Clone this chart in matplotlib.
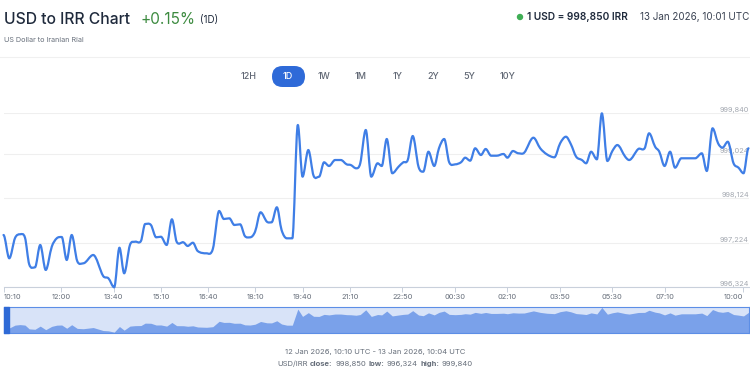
import matplotlib
matplotlib.use("Agg")
import matplotlib.pyplot as plt
from matplotlib.patches import FancyBboxPatch, Rectangle, Circle, PathPatch
from matplotlib.path import Path
from matplotlib.transforms import blended_transform_factory

plt.rcParams['font.family'] = ['Inter', 'DejaVu Sans']

# position of each reading along the time axis (10-minute slots from 12 Jan 10:10)
slot = [0, 1.1, 2.2, 3.15, 4.1, 4.9, 6.0, 7.0, 8.05, 9.2, 10.15, 11.1, 12.05, 13.0,
        14.05, 15.2, 17.1, 19.0, 20.0, 21.1, 22.1, 23.0, 24.1, 25.1, 26.2, 27.0, 28.1,
        29.1, 30.0, 31.1, 32.1, 33.0, 34.3, 35.1, 36.1, 37.0, 38.7, 39.9, 41.1, 42.0,
        43.05, 44.0, 45.1, 46.0, 47.0, 47.95, 49.0, 50.2, 51.1, 52.1, 53.0, 54.0, 55.05,
        56.1, 57.0, 58.1, 59.1, 60.15, 61.1, 62.05, 63.2, 64.3, 65.4, 66.2, 67.2, 68.0,
        69.05, 70.1, 71.3, 72.1, 73.05, 74.1, 75.3, 76.2, 77.05, 78.0, 79.1, 80.0, 81.0,
        82.1, 83.0, 84.0, 84.95, 86.1, 87.2, 88.0, 88.95, 89.9, 91.0, 91.9, 92.95, 94.0,
        95.3, 96.05, 97.1, 98.15, 99.25, 101.0, 102.3, 103.55, 105.0, 106.1, 107.2,
        108.15, 109.15, 110.25, 111.05, 112.0, 113.1, 114.05, 115.1, 116.05, 117.0,
        118.5, 119.25, 121.0, 122.2, 123.05, 124.2, 125.0, 126.0, 127.05, 128.0, 129.2,
        131.85, 133.1, 134.05, 135.15, 136.2, 137.05, 138.05, 139.15, 140.1, 141.05, 142.0]

# USD/IRR rate
rate = [997381, 996910, 997320, 997395, 997326, 996789, 996728, 997179, 996674, 997144,
        997314, 997340, 996876, 997381, 996855, 996809, 996977, 996552, 996506, 996324,
        997124, 996607, 997179, 997245, 997260, 997603, 997583, 997334, 997346, 997179,
        997698, 997245, 997233, 997159, 997225, 997058, 997011, 997098, 997866, 997704,
        997718, 997583, 997597, 997361, 997334, 997448, 997840, 997650, 997637, 997941,
        997482, 997314, 997314, 999604, 998559, 999098, 998579, 998559, 998850, 998775,
        998896, 998896, 998809, 998795, 998729, 998830, 999503, 998559, 998830, 998775,
        999321, 998628, 998761, 998850, 998896, 999381, 998761, 998660, 999064, 998775,
        999133, 999321, 998850, 998809, 998850, 998943, 998882, 999133, 998997, 999119,
        998983, 998983, 999018, 998943, 999078, 999032, 999044, 999347, 999133, 999012,
        998951, 999234, 999367, 999214, 998963, 998896, 998830, 999064, 998910, 999840,
        998876, 999078, 999199, 998963, 998896, 999119, 999133, 999436, 999165, 999064,
        998775, 999064, 998741, 998931, 998931, 999032, 998674, 999537, 999234, 999145,
        999266, 998830, 998741, 998628, 999133]

tick_labels = ["10:10", "12:00", "13:40", "15:10", "16:40", "18:10", "19:40", "21:10",
               "22:50", "00:30", "02:10", "03:50", "05:30", "07:10", "10:00"]
tick_slots = [0, 11, 21, 30, 39, 48, 57, 66, 76, 86, 96, 106, 116, 126, 141]

y_levels = [996324, 997224, 998124, 999024, 999840]
y_level_labels = ["996,324", "997,224", "998,124", "999,024", "999,840"]

ranges = ["12H", "1D", "1W", "1M", "1Y", "2Y", "5Y", "10Y"]
range_x = [249, 288, 324, 361, 398, 433, 469, 508]

W, H = 750, 375
fig = plt.figure(figsize=(7.5, 3.75), dpi=100)

blue = '#3f7ee6'
dark = '#1f2a3c'
grey = '#666e7a'

# pixel-space layer for the header and buttons
bg = fig.add_axes([0, 0, 1, 1])
bg.set_xlim(0, W)
bg.set_ylim(H, 0)
bg.axis('off')

bg.text(4, 19, "USD to IRR Chart", fontsize=11.3, color=dark, fontweight='medium', va='center')
bg.text(140, 19, "+0.15%", fontsize=11, color='#3d8b40', va='center')
bg.text(200, 20, "(1D)", fontsize=7, color=dark, va='center')
bg.text(4, 40, "US Dollar to Iranian Rial", fontsize=5.2, color=grey, va='center')
bg.add_patch(Circle((520, 17), 2.5, color='#3fae55'))
bg.text(527, 17, "1 USD = 998,850 IRR", fontsize=7.3, color=dark, fontweight='semibold', va='center')
bg.text(749, 17, "13 Jan 2026, 10:01 UTC", fontsize=7.1, color='#3a4252', va='center', ha='right')
bg.plot([0, W], [57, 57], color='#f0f0f0', lw=0.8)

bg.add_patch(FancyBboxPatch((272, 66), 33, 21, boxstyle="round,pad=0,rounding_size=10.5",
                            fc='#2e6ad8', ec='none'))
for lab, xc in zip(ranges, range_x):
    bg.text(xc, 76.5, lab, fontsize=6.5, ha='center', va='center',
            color='white' if lab == "1D" else '#5f6673', fontweight='medium')

# main chart
ax = fig.add_axes([3.5 / W, (H - 287.3) / H, 745 / W, 174 / H])

# smooth spline through the readings, flat at local highs and lows
n = len(slot)
slopes = []
for i in range(n):
    if i == 0 or i == n - 1:
        slopes.append(0.0)
        continue
    d1 = rate[i] - rate[i - 1]
    d2 = rate[i + 1] - rate[i]
    if d1 * d2 <= 0:
        slopes.append(0.0)
    else:
        slopes.append((rate[i + 1] - rate[i - 1]) / (slot[i + 1] - slot[i - 1]))
verts = [(slot[0], rate[0])]
codes = [Path.MOVETO]
for i in range(n - 1):
    h = (slot[i + 1] - slot[i]) / 3
    verts += [(slot[i] + h, rate[i] + slopes[i] * h),
              (slot[i + 1] - h, rate[i + 1] - slopes[i + 1] * h),
              (slot[i + 1], rate[i + 1])]
    codes += [Path.CURVE4] * 3
ax.add_patch(PathPatch(Path(verts, codes), fill=False, ec=blue, lw=1.6,
                       joinstyle='round', capstyle='round', zorder=3, clip_on=False))

ax.set_xlim(0, 142)
ax.set_ylim(996324, 999840)
ax.set_yticks(y_levels)
ax.set_yticklabels([])
ax.tick_params(axis='y', length=0)
ax.grid(axis='y', color='#efefef', lw=0.8)
for s in ['top', 'left', 'right']:
    ax.spines[s].set_visible(False)
ax.spines['bottom'].set_color('#c9d0db')
ax.set_xticks(tick_slots)
ax.set_xticklabels(tick_labels)
ax.tick_params(axis='x', length=3.5, width=0.7, color='#c9d0db', pad=1.5,
               labelsize=5.4, labelcolor=grey)
xl = ax.get_xticklabels()
xl[0].set_horizontalalignment('left')
xl[-1].set_horizontalalignment('right')
ax.patch.set_alpha(0)

tr = blended_transform_factory(fig.transFigure, ax.transData)
for v, lab in zip(y_levels, y_level_labels):
    t = ax.text(749 / W, v, lab, transform=tr, fontsize=5.3, color='#a3a8b0',
                va='bottom', ha='right', zorder=1)
    t.set_clip_on(False)

# navigator
nav = fig.add_axes([3.5 / W, (H - 333) / H, 745 / W, 26 / H])
nav.set_facecolor('#d8e3f8')
nav.fill_between(slot, 996200, rate, color='#7aa1ea', lw=0)
nav.set_xlim(0, 142)
nav.set_ylim(996200, 999900)
nav.set_xticks([])
nav.set_yticks([])
for s in nav.spines.values():
    s.set_color('#5c8ee6')
    s.set_linewidth(0.8)
nav.add_patch(Rectangle((0, 0), 0.008, 1, transform=nav.transAxes, color='#2f6ad6',
                        clip_on=False, zorder=4))

# footer
bg.text(W / 2, 352, "12 Jan 2026, 10:10 UTC - 13 Jan 2026, 10:04 UTC",
        fontsize=5.5, color=grey, ha='center', va='center')

parts = [("USD/IRR", 'normal'), ("close:", 'bold'), ("998,850", 'normal'),
         ("low:", 'bold'), ("996,324", 'normal'), ("high:", 'bold'), ("999,840", 'normal')]
gap = 2.6
r = fig.canvas.get_renderer()
texts = []
total = -gap
for s, wt in parts:
    t = fig.text(0, 1 - 364 / H, s, fontsize=5.5, color=grey, fontweight=wt, va='center')
    w = t.get_window_extent(r).width
    texts.append((t, w))
    total += w + gap
xcur = (W - total) / 2
for t, w in texts:
    t.set_x(xcur / W)
    xcur += w + gap

fig.savefig("out.png", dpi=100)
